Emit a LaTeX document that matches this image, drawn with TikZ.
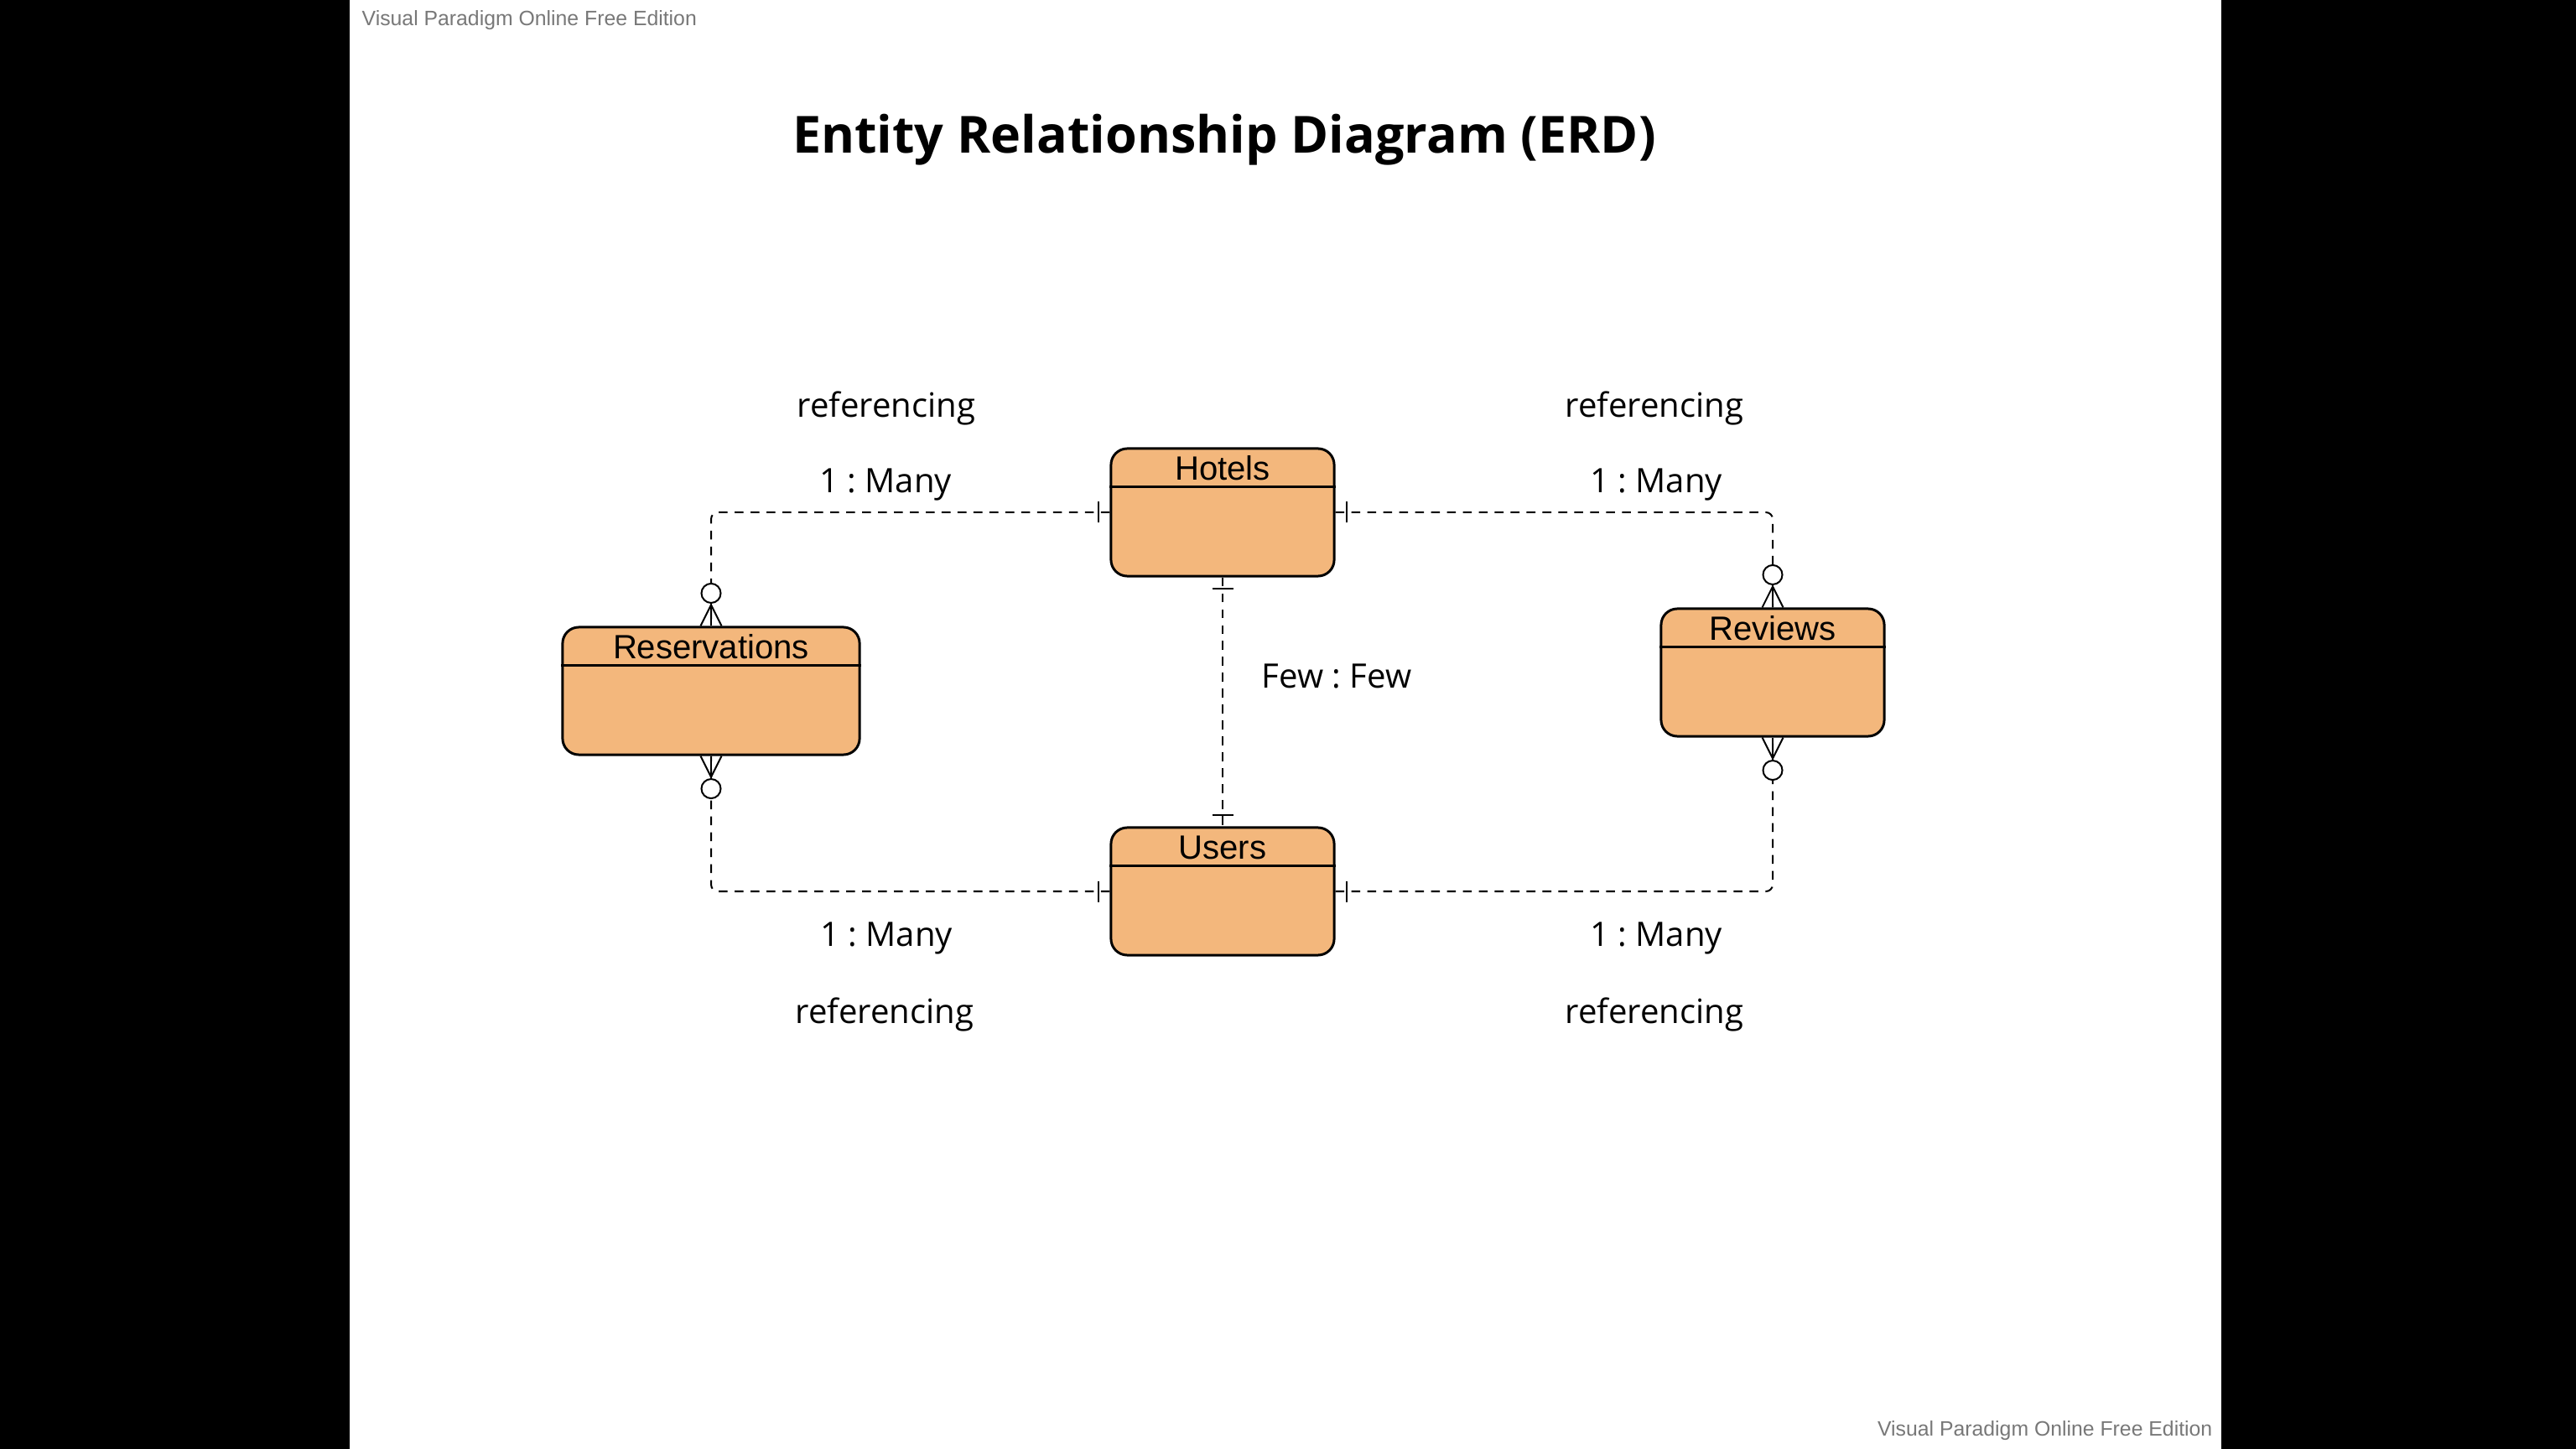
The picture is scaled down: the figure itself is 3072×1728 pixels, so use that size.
\documentclass[tikz,border=0pt]{standalone}
\usepackage{fontspec}
\setmainfont{Open Sans}
\newfontfamily\arialfont{Liberation Sans}
\usetikzlibrary{calc}
\definecolor{EntityFill}{HTML}{F3B77C}
\definecolor{WaterGrey}{HTML}{787878}
\frenchspacing

\begin{document}
\begin{tikzpicture}[x=0.01cm,y=-0.01cm,
    entity/.style={draw,line width=0.85pt,rounded corners=5.5pt,fill=EntityFill,
                   minimum width=2.66cm,minimum height=1.52cm,inner sep=0pt},
    ename/.style={font=\arialfont\fontsize{11.4pt}{13pt}\selectfont},
    lbl/.style={font=\fontsize{11.4pt}{13pt}\selectfont},
    wmark/.style={font=\arialfont\fontsize{7.05pt}{8pt}\selectfont,text=WaterGrey,inner sep=0pt},
    link/.style={line width=0.57pt,dash pattern=on 3pt off 2.4pt,rounded corners=2.3pt},
    mk/.style={line width=0.57pt}]
    % page
    \useasboundingbox[fill=black] (0,0) rectangle (3072,1728);
    \fill[white] (417,0) rectangle (2649,1728);
    \node[wmark,anchor=west] (wmtop) at (431,24) {Visual Paradigm Online Free Edition};
    \node[wmark,anchor=east] (wmbot) at (2639,1706) {Visual Paradigm Online Free Edition};
    \node[font=\bfseries\fontsize{17.35pt}{20pt}\selectfont] (title) at (1460,167) {Entity Relationship Diagram (ERD)};

    % entities
    \node[entity] (hotels) at (1458,611) {};
    \node[entity,minimum width=3.54cm] (reservations) at (848,824) {};
    \node[entity] (reviews) at (2114,802) {};
    \node[entity] (users) at (1458,1063) {};
    \foreach \e/\t in {hotels/Hotels,reservations/Reservations,reviews/Reviews,users/Users}{
      \draw[line width=0.6pt] ($(\e.north west)+(0,47)$) -- ($(\e.north east)+(0,47)$);
      \node[ename] (\e-name) at ($(\e.north)+(0,25)$) {\t};
    }

    % relationships
    \draw[link] (hotels.west) -| (reservations.north);
    \draw[link] (hotels.east) -| (reviews.north);
    \draw[link] (users.west) -| (reservations.south);
    \draw[link] (users.east) -| (reviews.south);
    \draw[link] (hotels.south) -- (users.north);

    % one ends
    \foreach \n/\s in {hotels.west/-1,hotels.east/1,users.west/-1,users.east/1}
      \draw[mk] ($(\n)+(\s*13,-12.5)$) -- ($(\n)+(\s*13,12.5)$);
    \foreach \n/\s in {hotels.south/1,users.north/-1}
      \draw[mk] ($(\n)+(-12.5,\s*13)$) -- ($(\n)+(12.5,\s*13)$);
    % zero or many ends
    \foreach \n/\s in {reservations.north/-1,reservations.south/1,reviews.north/-1,reviews.south/1}{
      \draw[mk] ($(\n)+(-12.5,0)$) -- ($(\n)+(0,\s*25)$) -- ($(\n)+(12.5,0)$);
      \draw[mk] (\n) -- ($(\n)+(0,\s*28)$);
      \draw[mk,fill=white] ($(\n)+(0,\s*39)$) circle[radius=0.115cm];
    }

    % labels
    \node[lbl] (refHR) at (1057,487) {referencing};
    \node[lbl] (refHV) at (1973,487) {referencing};
    \node[lbl] (refUR) at (1055,1210) {referencing};
    \node[lbl] (refUV) at (1973,1210) {referencing};
    \node[lbl] (cardHR) at (1056,578) {1 : Many};
    \node[lbl] (cardHV) at (1975,578) {1 : Many};
    \node[lbl] (cardUR) at (1057,1119) {1 : Many};
    \node[lbl] (cardUV) at (1975,1119) {1 : Many};
    \node[lbl] (cardHU) at (1594,806) {Few : Few};
\end{tikzpicture}
\end{document}
